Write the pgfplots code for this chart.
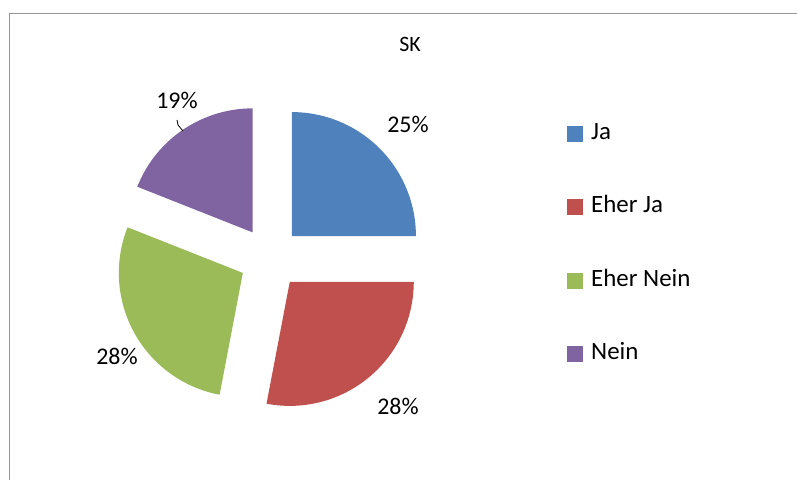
\documentclass[border=0pt]{standalone}
\usepackage{pgfplots}
\pgfplotsset{compat=1.18}
\usepackage{pgfplotstable}
\usepackage{fontspec}
\setmainfont{Carlito}
\definecolor{cJa}{HTML}{4F81BD}
\definecolor{cEJ}{HTML}{C0504D}
\definecolor{cEN}{HTML}{9BBB59}
\definecolor{cN}{HTML}{8064A2}
\definecolor{bordergray}{RGB}{150,150,150}

\pgfplotstableread{
label value
Ja 25
EherJa 28
EherNein 28
Nein 19
}\piedata

\newcommand\slice[3]{% #1 start angle, #2 end angle, #3 colour
  \pgfmathsetmacro\midang{(#1+#2)/2}%
  \pgfmathsetmacro\ox{270+31*cos(\midang)}%
  \pgfmathsetmacro\oy{258-31*sin(\midang)}%
  \edef\temp{\noexpand\addplot[fill=#3, draw=none, domain=#2:#1, samples=120, variable=\noexpand\t]
    ({\ox+124*cos(\noexpand\t)},{\oy-124*sin(\noexpand\t)}) -- (axis cs:\ox,\oy) -- cycle;}%
  \temp}

\begin{document}
\begin{tikzpicture}
\pgfplotstablegetelem{0}{value}\of\piedata \pgfmathsetmacro\vA{\pgfplotsretval}
\pgfplotstablegetelem{1}{value}\of\piedata \pgfmathsetmacro\vB{\pgfplotsretval}
\pgfplotstablegetelem{2}{value}\of\piedata \pgfmathsetmacro\vC{\pgfplotsretval}
\pgfplotstablegetelem{3}{value}\of\piedata \pgfmathsetmacro\vD{\pgfplotsretval}
\pgfmathsetmacro\aA{90}
\pgfmathsetmacro\aB{\aA-3.6*\vA}
\pgfmathsetmacro\aC{\aB-3.6*\vB}
\pgfmathsetmacro\aD{\aC-3.6*\vC}
\pgfmathsetmacro\aE{\aD-3.6*\vD}
\begin{axis}[
  at={(0,0)}, anchor=south west,
  width=797bp, height=480bp, scale only axis,
  xmin=0, xmax=797, ymin=0, ymax=480, y dir=reverse,
  hide axis, clip=false,
  legend image code/.code={\fill[#1] (0bp,-8bp) rectangle (16bp,8bp);},
  legend cell align=left,
  legend style={at={(axis cs:567,123)}, anchor=north west, draw=none, fill=none,
    inner sep=0pt, row sep=52.5bp, column sep=8bp,
    font=\fontsize{25}{29}\selectfont,
    nodes={inner sep=0pt, text height=16bp, text depth=5bp}},
]
\draw[bordergray, line width=1bp] (axis cs:9,480) -- (axis cs:9,13) -- (axis cs:797,13);
\slice{\aA}{\aB}{cJa}
\addlegendentry{Ja}
\slice{\aB}{\aC}{cEJ}
\addlegendentry{Eher Ja}
\slice{\aC}{\aD}{cEN}
\addlegendentry{Eher Nein}
\slice{\aD}{\aE}{cN}
\addlegendentry{Nein}
\node[font=\fontsize{22}{26}\selectfont] at (axis cs:410,44) {SK};
\node[font=\fontsize{24}{28}\selectfont] at (axis cs:408,124) {25\%};
\node[font=\fontsize{24}{28}\selectfont] at (axis cs:398,406) {28\%};
\node[font=\fontsize{24}{28}\selectfont] at (axis cs:117,356) {28\%};
\node[font=\fontsize{24}{28}\selectfont] at (axis cs:177,100) {19\%};
\draw[black, line width=0.8bp] (axis cs:177,120) -- (axis cs:178,125) -- (axis cs:183,131);
\end{axis}
\pgfresetboundingbox
\path[use as bounding box] (0,0) rectangle (797bp,480bp);
\end{tikzpicture}
\end{document}
